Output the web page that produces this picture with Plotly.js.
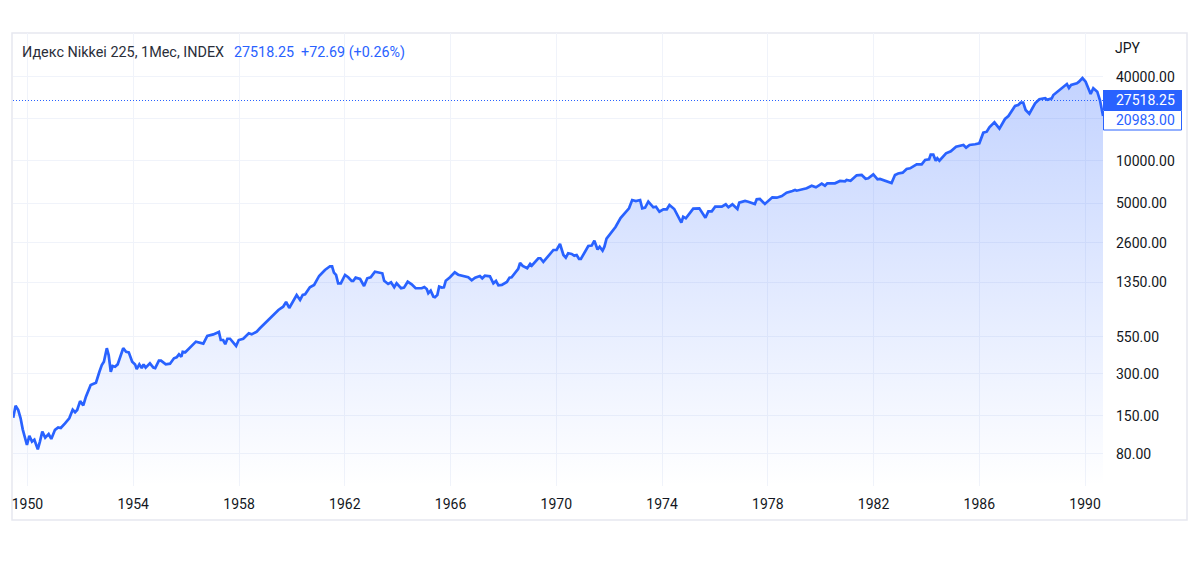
<!DOCTYPE html>
<html>
<head>
<meta charset="utf-8">
<script src="https://cdn.plot.ly/plotly-3.0.1.min.js"></script>
<style>html,body{margin:0;padding:0;background:#fff}#chart{width:1200px;height:563px}</style>
</head>
<body>
<div id="chart"></div>
<script>
const years = [
1949.46,1949.55,1949.65,1949.74,1949.82,1949.91,1949.98,1950.07,1950.17,1950.26,1950.39,1950.47,1950.56,1950.67,1950.80,1950.90,
1951.04,1951.16,1951.26,1951.42,1951.58,1951.71,1951.80,1951.88,1951.99,1952.11,1952.21,1952.39,1952.59,1952.72,1952.81,1952.89,
1953.00,1953.07,1953.15,1953.22,1953.31,1953.41,1953.62,1953.73,1953.83,1953.96,1954.07,1954.13,1954.23,1954.32,1954.39,1954.47,1954.63,1954.76,1954.83,1954.97,
1955.05,1955.23,1955.39,1955.54,1955.64,1955.73,1955.82,1955.87,1955.97,1956.37,1956.65,1956.80,1957.03,1957.24,1957.31,1957.40,1957.48,1957.56,1957.66,1957.89,1957.99,
1958.16,1958.37,1958.48,1958.67,1958.79,1959.11,1959.21,1959.30,1959.49,1959.67,1959.78,1959.90,1960.18,1960.31,1960.41,1960.50,1960.68,1960.84,
1961.03,1961.25,1961.44,1961.52,1961.59,1961.67,1961.75,1961.85,1962.01,1962.13,1962.26,1962.32,1962.41,1962.58,1962.73,1962.85,1962.98,
1963.14,1963.27,1963.42,1963.49,1963.64,1963.75,1963.87,1963.96,1964.13,1964.24,1964.38,1964.53,1964.68,1964.91,
1965.01,1965.10,1965.16,1965.25,1965.35,1965.41,1965.50,1965.57,1965.67,1965.75,1965.82,1965.98,1966.16,1966.29,1966.44,1966.67,1966.80,1966.93,
1967.11,1967.20,1967.30,1967.49,1967.62,1967.72,1967.81,1967.94,1968.13,1968.23,1968.31,1968.56,1968.63,1968.73,1968.90,
1969.01,1969.07,1969.32,1969.40,1969.51,1969.89,1970.01,1970.14,1970.27,1970.36,1970.45,1970.58,1970.68,1970.77,1970.86,1970.93,
1971.09,1971.21,1971.34,1971.44,1971.56,1971.64,1971.75,1971.82,1971.90,1972.24,1972.43,1972.60,1972.75,1972.87,
1973.01,1973.17,1973.25,1973.36,1973.48,1973.67,1973.77,1973.90,1974.05,1974.18,1974.28,1974.46,1974.61,1974.73,1974.80,1974.90,
1975.18,1975.41,1975.64,1975.75,1975.88,1976.01,1976.26,1976.41,1976.51,1976.66,1976.85,1976.92,
1977.14,1977.26,1977.51,1977.58,1977.70,1977.89,1978.17,1978.34,1978.53,1978.71,1978.93,
1979.03,1979.09,1979.47,1979.66,1979.82,1980.04,1980.16,1980.25,1980.54,1980.73,1980.92,1980.98,
1981.13,1981.36,1981.55,1981.70,1981.80,1981.99,1982.15,1982.24,1982.68,1982.81,1982.93,
1983.10,1983.25,1983.38,1983.63,1983.82,1983.95,1984.10,1984.16,1984.26,1984.35,1984.41,1984.49,1984.74,1984.92,
1985.12,1985.33,1985.40,1985.50,1985.63,1985.84,1986.00,1986.15,1986.28,1986.38,1986.57,1986.76,1986.97,
1987.10,1987.35,1987.47,1987.56,1987.66,1987.75,1987.89,1988.11,1988.27,1988.49,1988.57,1988.74,1988.80,1988.99,
1989.31,1989.39,1989.47,1989.69,1989.77,1989.90,1990.02,1990.21,1990.31,1990.46,1990.56,1990.68];
const closes = [
145,177,165,144,120,106,92.7,108,98,101,86.4,98,115.5,104.6,111,102.4,
119,124,122.7,132.5,144,166,159,165,191,178,205.5,249,259,310,346,366,
457,408,309,341,337,350,457,431,427,366,350,324,350,329,350,332,356,332,329,372,
372,350,354,387,393,413,397,431,427,509,493,559,574,597,523,523,488,534,534,474,523,
534,584,574,600,635,728,756,799,858,906,979,887,1099,1012,1099,1111,1247,1296,
1503,1659,1763,1763,1587,1528,1332,1332,1528,1471,1384,1384,1462,1430,1274,1447,1471,
1614,1597,1571,1390,1317,1354,1247,1332,1227,1240,1368,1310,1227,1227,
1253,1213,1130,1179,1069,1058,1099,1260,1240,1247,1390,1471,1597,1535,1510,1471,1400,1462,
1503,1447,1510,1494,1332,1384,1288,1296,1361,1462,1471,1687,1861,1772,1706,
1831,1781,2012,2012,1893,2306,2306,2546,2124,2032,2184,2160,2100,2124,1988,1988,
2243,2463,2480,2687,2325,2435,2280,2435,2779,3369,3907,4221,4585,5256,
5170,5256,4585,4632,5113,4661,4708,4336,4510,4510,4841,4532,3992,3616,3992,3888,
4556,4585,3927,4362,4362,4708,4708,4895,4661,4895,4532,5029,
5170,5113,4922,5317,5344,4922,5495,5461,5613,5929,6097,
6198,6127,6375,6654,6480,6876,6654,6921,6921,7190,7150,7308,
7222,7894,7937,7467,7516,8024,7393,7430,6954,7937,8134,
8243,8760,8862,9462,9462,10166,10284,11090,11090,10050,10456,10050,11351,11730,
12660,12870,13020,12460,13020,13165,13390,15940,16207,17420,18910,17030,19980,
20990,24750,25160,26140,26140,23170,21800,25870,27640,28100,27450,28100,29670,31830,
35560,33290,34980,35970,36950,39250,36950,30160,33130,31340,27320,20983];

const yTickValues = [80,150,300,550,1350,2600,5000,10000,20000,40000];
const yTickLabels = ['80.00','150.00','300.00','550.00','1350.00','2600.00','5000.00','10000.00','','40000.00'];
const xTickValues = [1950,1954,1958,1962,1966,1970,1974,1978,1982,1986,1990];
const headerName = 'Идекс Nikkei 225, 1Мес, INDEX';
const headerQuote = '27518.25&nbsp;&nbsp;+72.69 (+0.26%)';
const lastQuote = 27518.25;
const lastClose = 20983;

const BLUE = '#2962ff', INK = '#131722', GRID = '#f0f3fa', FONT = 'Roboto, sans-serif';
const W = 1090, H = 453;
const px = v => (v - 13) / W;
const py = v => (486 - v) / H;

const traces = [
  {x: years, y: closes, type: 'scatter', mode: 'lines', hoverinfo: 'skip',
   line: {color: BLUE, width: 2.7}, fill: 'tozeroy',
   fillgradient: {type: 'vertical', start: 47.2, stop: 39250,
     colorscale: [[0, 'rgba(41,98,255,0)'], [1, 'rgba(41,98,255,0.28)']]}}
];

const layout = {
  width: 1200, height: 563, showlegend: false, paper_bgcolor: '#fff', plot_bgcolor: '#fff',
  margin: {l: 13, r: 97, t: 33, b: 77},
  font: {family: FONT, color: INK, size: 14},
  xaxis: {type: 'linear', range: [1949.452, 1990.677], tickmode: 'array', tickvals: xTickValues,
    ticktext: xTickValues.map(String), showgrid: true, gridcolor: GRID, gridwidth: 1, zeroline: false, showline: false,
    ticks: '', ticklabelstandoff: 8, tickfont: {family: FONT, size: 14, color: INK}},
  yaxis: {type: 'log', side: 'right', range: [1.6736, 4.916], tickmode: 'array', tickvals: yTickValues, ticktext: yTickLabels,
    showgrid: true, gridcolor: GRID, gridwidth: 1, zeroline: false, showline: false,
    ticks: '', ticklabelstandoff: 12, ticklabelshift: 0.5, tickfont: {family: FONT, size: 14, color: INK}},
  shapes: [
    {type: 'rect', xref: 'paper', yref: 'paper', x0: px(12), x1: px(1187), y0: py(520), y1: py(33),
     line: {color: '#e6e8f0', width: 1.5}, fillcolor: 'rgba(0,0,0,0)', layer: 'below'},
    {type: 'line', xref: 'paper', yref: 'paper', x0: 0, x1: 1, y0: py(100.5), y1: py(100.5),
     line: {color: BLUE, width: 1, dash: '1px,2px'}, layer: 'above'},
    {type: 'rect', xref: 'paper', yref: 'paper', x0: px(1103), x1: px(1182), y0: py(110), y1: py(90),
     line: {width: 0}, fillcolor: BLUE, layer: 'above'},
    {type: 'rect', xref: 'paper', yref: 'paper', x0: px(1103.5), x1: px(1181.5), y0: py(130), y1: py(110.5),
     line: {color: BLUE, width: 1}, fillcolor: '#fff', layer: 'above'}
  ],
  annotations: [
    {xref: 'paper', yref: 'paper', x: px(20), y: py(52), xanchor: 'left', yanchor: 'middle', showarrow: false,
     text: headerName, font: {family: FONT, size: 14.4, color: '#2a2e39'}},
    {xref: 'paper', yref: 'paper', x: px(232), y: py(52), xanchor: 'left', yanchor: 'middle', showarrow: false,
     text: headerQuote, font: {family: FONT, size: 14.3, color: BLUE}},
    {xref: 'paper', yref: 'paper', x: px(1113), y: py(48), xanchor: 'left', yanchor: 'middle', showarrow: false,
     text: 'JPY', font: {family: FONT, size: 14, color: INK}},
    {xref: 'paper', yref: 'paper', x: px(1114), y: py(100), xanchor: 'left', yanchor: 'middle', showarrow: false,
     text: lastQuote.toFixed(2), font: {family: FONT, size: 14, color: '#fff'}},
    {xref: 'paper', yref: 'paper', x: px(1114), y: py(120), xanchor: 'left', yanchor: 'middle', showarrow: false,
     text: lastClose.toFixed(2), font: {family: FONT, size: 14, color: BLUE}}
  ]
};
Plotly.newPlot('chart', traces, layout, {displayModeBar: false, staticPlot: true});
</script>
</body>
</html>
